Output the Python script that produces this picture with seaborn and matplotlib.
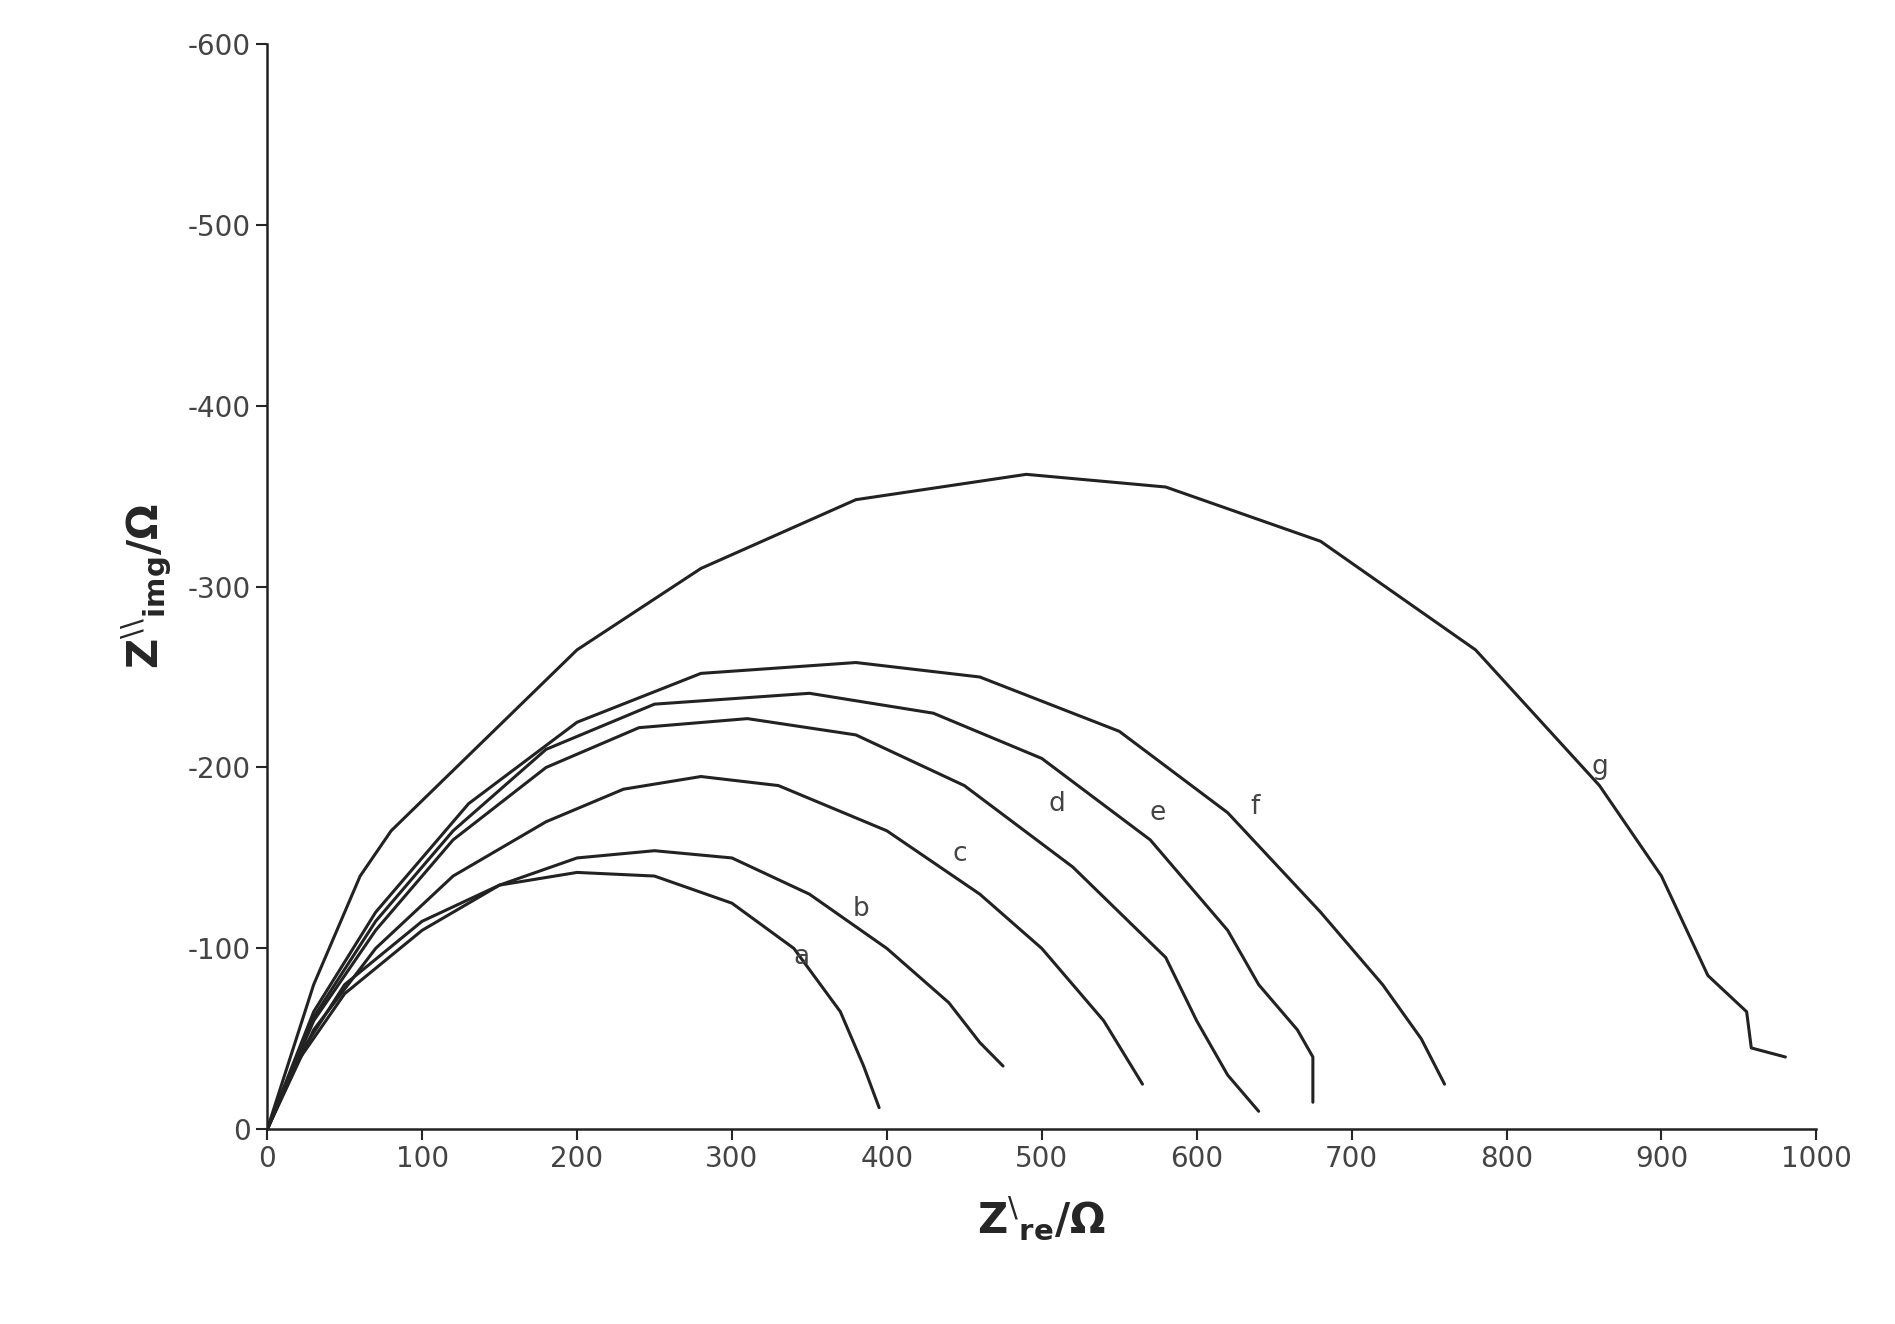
import matplotlib
matplotlib.use("Agg")
import matplotlib.pyplot as plt
import seaborn as sns
import pandas as pd

# Nyquist curves: (Z're, -Z''img) points
a_x = [0, 20, 50, 100, 150, 200, 250, 300, 340, 370, 385, 395]
a_y = [0, 40, 80, 115, 135, 142, 140, 125, 100, 65, 35, 12]
b_x = [0, 20, 50, 100, 150, 200, 250, 300, 350, 400, 440, 460, 475]
b_y = [0, 38, 75, 110, 135, 150, 154, 150, 130, 100, 70, 48, 35]
c_x = [0, 30, 70, 120, 180, 230, 280, 330, 400, 460, 500, 540, 565]
c_y = [0, 55, 100, 140, 170, 188, 195, 190, 165, 130, 100, 60, 25]
d_x = [0, 30, 70, 120, 180, 240, 310, 380, 450, 520, 580, 600, 620, 640]
d_y = [0, 60, 110, 160, 200, 222, 227, 218, 190, 145, 95, 60, 30, 10]
e_x = [0, 30, 70, 120, 180, 250, 350, 430, 500, 570, 620, 640, 665, 675, 675]
e_y = [0, 62, 115, 165, 210, 235, 241, 230, 205, 160, 110, 80, 55, 40, 15]
f_x = [0, 30, 70, 130, 200, 280, 380, 460, 550, 620, 680, 720, 745, 760]
f_y = [0, 65, 120, 180, 225, 252, 258, 250, 220, 175, 120, 80, 50, 25]
g_x = [0, 30, 60, 80, 140, 200, 280, 380, 490, 580, 680, 780, 860, 900, 930, 955, 958, 980]
g_y = [0, 80, 140, 165, 215, 265, 310, 348, 362, 355, 325, 265, 190, 140, 85, 65, 45, 40]

names = ["a", "b", "c", "d", "e", "f", "g"]
xs = [a_x, b_x, c_x, d_x, e_x, f_x, g_x]
ys = [a_y, b_y, c_y, d_y, e_y, f_y, g_y]
label_x = [345, 383, 447, 510, 575, 638, 860]
label_y = [95, 122, 152, 180, 175, 178, 200]

rows = []
for n, x, y in zip(names, xs, ys):
    for i, (xi, yi) in enumerate(zip(x, y)):
        rows.append({"curve": n, "order": i, "zre": xi, "zimg": yi})
df = pd.DataFrame(rows)

sns.set_style("white")
fig = plt.figure(figsize=(18.95, 13.24), dpi=100)
ax = fig.add_axes([0.141, 0.147, 0.8175, 0.82])

for n in names:
    sns.lineplot(data=df[df.curve == n], x="zre", y="zimg", sort=False,
                 color="#222222", linewidth=2.2, ax=ax, estimator=None)

for n, lx, ly in zip(names, label_x, label_y):
    ax.text(lx, ly, n, fontsize=19, color="#444444", ha="center", va="center")

ax.set_xlim(0, 1000)
ax.set_ylim(0, 600)
ax.set_xticks(range(0, 1001, 100))
ax.set_yticks(range(0, 601, 100))
ax.set_yticklabels(["0"] + [f"-{v}" for v in range(100, 601, 100)])
ax.tick_params(axis="both", direction="out", length=8, width=1.5,
               labelsize=20, labelcolor="#444444", left=True, bottom=True)
sns.despine(ax=ax)
for s in ["left", "bottom"]:
    ax.spines[s].set_linewidth(1.8)
    ax.spines[s].set_color("#222222")

ax.set_xlabel(r"$\mathbf{Z}^{\backslash}{}_{\mathbf{re}}\mathbf{/\Omega}$", fontsize=30, labelpad=15)
ax.set_ylabel(r"$\mathbf{Z}^{\backslash\backslash}{}_{\mathbf{img}}\mathbf{/\Omega}$", fontsize=30, labelpad=10)

fig.savefig("out.png", dpi=100)
